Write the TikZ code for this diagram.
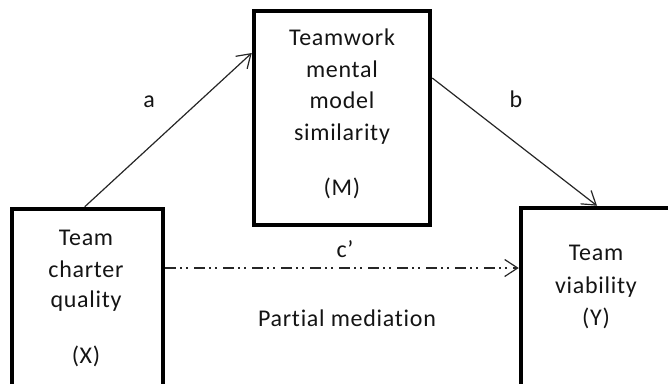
\documentclass[tikz,border=0pt]{standalone}
\usepackage{fontspec}
\setmainfont{Carlito}[Ligatures={NoCommon},LetterSpace=3]
\usetikzlibrary{arrows.meta}
\begin{document}
\begin{tikzpicture}[x=1pt,y=-1pt,
  box/.style={draw=black,line width=4.5pt,rectangle,inner sep=0pt,minimum width=#1},
  txt/.style={anchor=base,inner sep=0pt,font=\fontsize{24}{28}\selectfont,text=black!92},
  arr/.style={draw=black!85,line width=1.2pt,-{Straight Barb[length=13pt,width=17pt,line width=1.2pt]}},
  dashdot/.style={dash pattern=on 11pt off 4pt on 2pt off 4pt on 2pt off 6pt}]
\useasboundingbox (0,0) rectangle (668,383);
\clip (0,0) rectangle (668,383);
% boxes
\node[box=151pt,minimum height=211pt] (X) at (87.5,314.5) {};
\node[box=176pt,minimum height=214pt] (M) at (342,118) {};
\node[box=179pt,minimum height=212pt] (Y) at (610.5,314) {};
% X text
\node[txt] (x1) at (86,245) {Team};
\node[txt] (x2) at (86,277) {charter};
\node[txt] (x3) at (86,307) {quality};
\node[txt] (x4) at (86,363) {(X)};
% M text
\node[txt] (m1) at (342,45) {Teamwork};
\node[txt] (m2) at (342,77) {mental};
\node[txt] (m3) at (342,108) {model};
\node[txt] (m4) at (342,140) {similarity};
\node[txt] (m5) at (342,195) {(M)};
% Y text
\node[txt] (y1) at (596,260) {Team};
\node[txt] (y2) at (596,293) {viability};
\node[txt] (y3) at (596,325) {(Y)};
% labels
\node[txt] (la) at (149,107) {a};
\node[txt] (lb) at (516,107) {b};
\node[txt] (lc) at (345,257) {c’};
\node[txt] (lp) at (347,326) {Partial mediation};
% connectors
\coordinate (xs) at ([yshift=46.5pt]X.east);
\draw[arr] ([xshift=75pt]X.north west) -- ([yshift=65pt]M.west);
\draw[arr] ([yshift=40pt]M.east) -- ([xshift=-13.5pt]Y.north);
\draw[arr,dashdot] (xs) -- (xs -| Y.west);
\end{tikzpicture}
\end{document}
